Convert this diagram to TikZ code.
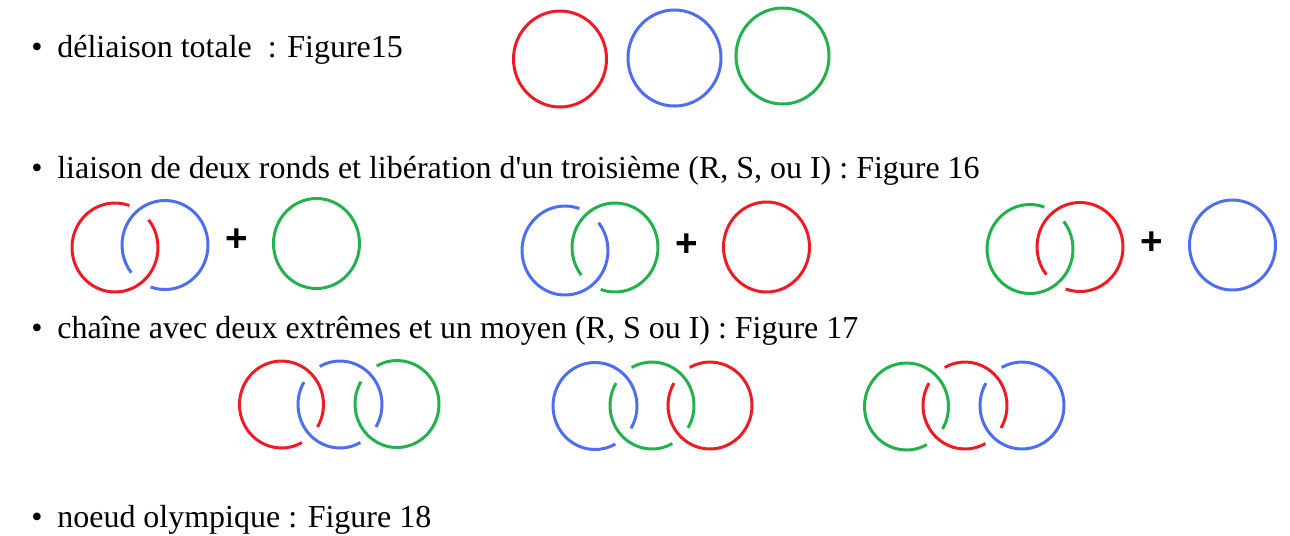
\documentclass[tikz,border=0pt]{standalone}
\usepackage{fontspec}
\setmainfont{Liberation Serif}
\newfontfamily\plusfont{Liberation Sans}
\definecolor{rouge}{RGB}{237,28,36}
\definecolor{bleu}{RGB}{77,109,243}
\definecolor{vert}{RGB}{34,177,76}
% arc of a ring: colour, centre x, centre y, start, end, x radius, y radius
\newcommand{\anneau}[7]{%
  \draw[ring,#1] (#2,#3) ++(#4:#6 and #7)
    arc[start angle=#4, end angle=#5, x radius=#6, y radius=#7];}
\tikzset{
  ring/.style={line width=1.7pt},
  puce/.style={anchor=base, inner sep=0pt, font=\fontsize{18.2}{21}\selectfont},
  texte/.style={anchor=base west, inner sep=0pt, font=\fontsize{18.2}{21}\selectfont},
  plus/.style={font=\plusfont\bfseries\fontsize{22}{24}\selectfont}
}
\begin{document}
\begin{tikzpicture}[x=0.02cm,y=0.02cm]
\useasboundingbox (0,0) rectangle (1290,-535);

% lines of text
\node[puce] (p15) at (37,-57) {•};
\node[texte] (t15) at (57,-57) {déliaison totale\ \ : Figure15};
\node[puce] (p16) at (37,-178) {•};
\node[texte] (t16) at (57,-178) {liaison de deux ronds et libération d\textquotesingle un troisième (R, S, ou I) : Figure 16};
\node[puce] (p17) at (37,-338) {•};
\node[texte] (t17) at (57,-338) {chaîne avec deux extrêmes et un moyen (R, S ou I) : Figure 17};
\node[puce] (p18) at (37,-527) {•};
\node[texte] (t18) at (57,-527) {noeud olympique : Figure 18};

% figure 15
\anneau{rouge}{560}{-59}{0}{360}{46.5}{48}
\anneau{bleu}{674.5}{-58}{0}{360}{46.5}{48}
\anneau{vert}{782.5}{-56}{0}{360}{46.5}{48}

% figure 16
\anneau{rouge}{115}{-247.5}{70.5}{398.5}{43}{44.5}
\anneau{bleu}{165}{-245}{250.5}{578.5}{43}{44.5}
\node[plus] (plus1) at (237,-240) {+};
\anneau{vert}{316.5}{-243.5}{0}{360}{43}{45}

\anneau{bleu}{565}{-250.5}{70.5}{398.5}{43}{44.5}
\anneau{vert}{615}{-247.5}{250.5}{578.5}{43}{44.5}
\node[plus] (plus2) at (687,-245) {+};
\anneau{rouge}{766.5}{-247}{0}{360}{43}{45}

\anneau{vert}{1030}{-249}{70.5}{398.5}{43}{44.5}
\anneau{rouge}{1080}{-247}{250.5}{578.5}{43}{44.5}
\node[plus] (plus3) at (1152,-243) {+};
\anneau{bleu}{1232.5}{-245}{0}{360}{43}{45}

% figure 17
\anneau{rouge}{281.5}{-404.5}{-31}{299}{42}{43.5}
\anneau{bleu}{340}{-404.5}{-31}{119}{42}{43.5}
\anneau{bleu}{340}{-404.5}{149}{299}{42}{43.5}
\anneau{vert}{397}{-404}{149}{479}{42}{43.5}

\anneau{bleu}{595}{-406}{-31}{299}{42}{43.5}
\anneau{vert}{652}{-405.5}{-31}{119}{42}{43.5}
\anneau{vert}{652}{-405.5}{149}{299}{42}{43.5}
\anneau{rouge}{710}{-405.5}{149}{479}{42}{43.5}

\anneau{vert}{906.5}{-406.5}{-31}{299}{42}{43.5}
\anneau{rouge}{965}{-405.5}{-31}{119}{42}{43.5}
\anneau{rouge}{965}{-405.5}{149}{299}{42}{43.5}
\anneau{bleu}{1022}{-405.5}{149}{479}{42}{43.5}
\end{tikzpicture}
\end{document}
